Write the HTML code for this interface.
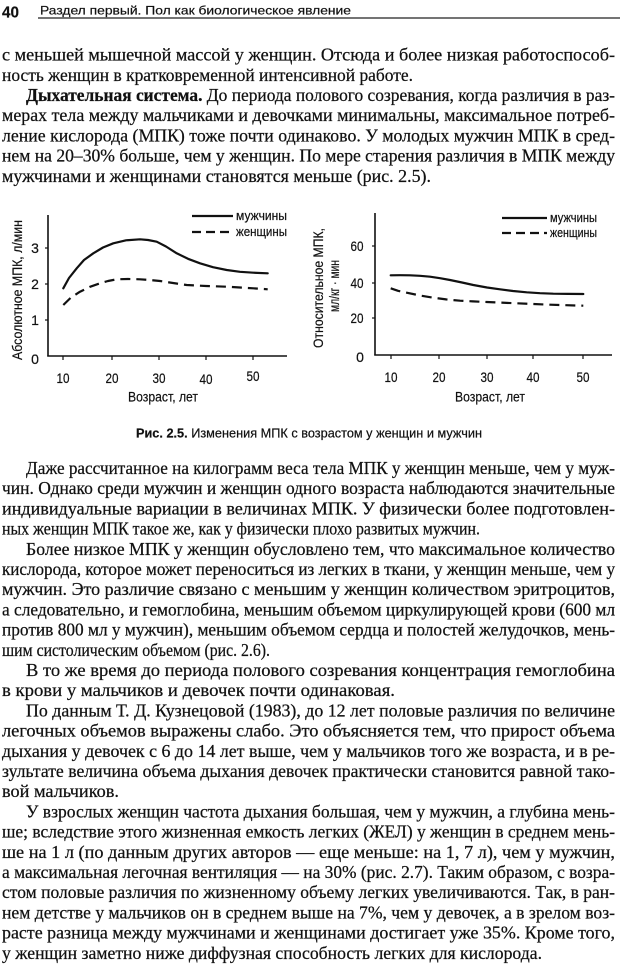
<!DOCTYPE html>
<html>
<head>
<meta charset="utf-8">
<style>
  html,body{margin:0;padding:0;background:#fff;}
  svg{display:block;}
  .b{font-family:"Liberation Serif","Noto Serif CJK SC",serif;font-size:18px;fill:#111;stroke:#111;stroke-width:0.25;}
  .s{font-family:"Liberation Sans","Noto Sans CJK SC",sans-serif;fill:#111;stroke:#111;stroke-width:0.2;}
</style>
</head>
<body>
<svg width="620" height="966" viewBox="0 0 620 966" xmlns="http://www.w3.org/2000/svg">
  <rect width="620" height="966" fill="#fff"/>

  <!-- Header -->
  <text class="s" x="2" y="17.3" font-size="15.5" font-weight="bold" textLength="17" lengthAdjust="spacingAndGlyphs">40</text>
  <text class="s" x="40" y="14.5" font-size="12" textLength="311" lengthAdjust="spacingAndGlyphs">Раздел первый. Пол как биологическое явление</text>
  <line x1="38" y1="18" x2="620" y2="18" stroke="#222" stroke-width="1.3"/>

  <!-- Top text block -->
  <text class="b" x="2" y="60.6" textLength="613" lengthAdjust="spacingAndGlyphs">с меньшей мышечной массой у женщин. Отсюда и более низкая работоспособ-</text>
  <text class="b" x="2" y="80.8" textLength="411" lengthAdjust="spacingAndGlyphs">ность женщин в кратковременной интенсивной работе.</text>
  <text class="b" x="26" y="101" textLength="589" lengthAdjust="spacingAndGlyphs"><tspan font-weight="bold">Дыхательная система.</tspan> До периода полового созревания, когда различия в раз-</text>
  <text class="b" x="2" y="121.2" textLength="613" lengthAdjust="spacingAndGlyphs">мерах тела между мальчиками и девочками минимальны, максимальное потреб-</text>
  <text class="b" x="2" y="141.4" textLength="613" lengthAdjust="spacingAndGlyphs">ление кислорода (МПК) тоже почти одинаково. У молодых мужчин МПК в сред-</text>
  <text class="b" x="2" y="161.6" textLength="613" lengthAdjust="spacingAndGlyphs">нем на 20–30% больше, чем у женщин. По мере старения различия в МПК между</text>
  <text class="b" x="2" y="181.8" textLength="429" lengthAdjust="spacingAndGlyphs">мужчинами и женщинами становятся меньше (рис. 2.5).</text>

  <!-- LEFT CHART -->
  <g stroke="#111" fill="none">
    <line x1="48" y1="215" x2="48" y2="356.5" stroke-width="1.6"/>
    <line x1="47.3" y1="356" x2="287" y2="356" stroke-width="1.6"/>
    <line x1="63" y1="356" x2="63" y2="360" stroke-width="1.2"/>
    <line x1="112" y1="356" x2="112" y2="360" stroke-width="1.2"/>
    <line x1="159" y1="356" x2="159" y2="360" stroke-width="1.2"/>
    <line x1="206" y1="356" x2="206" y2="360" stroke-width="1.2"/>
    <line x1="253" y1="356" x2="253" y2="360" stroke-width="1.2"/>
    <line x1="45" y1="248" x2="48" y2="248" stroke-width="1.2"/>
    <line x1="45" y1="284" x2="48" y2="284" stroke-width="1.2"/>
    <line x1="45" y1="320" x2="48" y2="320" stroke-width="1.2"/>
    <polyline stroke-width="2.2" stroke-linejoin="round" stroke-linecap="round"
      points="63.3,288.3 69,278 76.7,268.3 84,260 93.3,253.3 103,247.5 113.3,243.3 126,240.3 140,239.3 148,240 156.7,241.7 166,246.5 176.7,253.3 188,258.8 200,263.3 213,267.2 226.7,270 240,271.8 253.3,272.7 267.7,273.3"/>
    <polyline stroke-width="2.2" stroke-dasharray="10 6" stroke-linejoin="round"
      points="63.3,305 71,297.5 80,291.7 90,286.8 100,283.3 108,281 116.7,279.3 128,279 140,279.3 150,280 160,281 173,283 186.7,285 206,286 226.7,286.7 240,287.5 253.3,288.3 267.7,289.3"/>
    <line x1="192" y1="216" x2="233" y2="216" stroke-width="2.2"/>
    <line x1="192" y1="232" x2="233" y2="232" stroke-width="2.2" stroke-dasharray="9 5"/>
  </g>
  <text class="s" x="236" y="220" font-size="12.5" textLength="51" lengthAdjust="spacingAndGlyphs">мужчины</text>
  <text class="s" x="236" y="236" font-size="12.5" textLength="51" lengthAdjust="spacingAndGlyphs">женщины</text>
  <g class="s" font-size="14" text-anchor="middle">
    <text x="35" y="253">3</text>
    <text x="35" y="289">2</text>
    <text x="35" y="325">1</text>
    <text x="35" y="364">0</text>
    <text x="63" y="383" textLength="13" lengthAdjust="spacingAndGlyphs">10</text>
    <text x="112" y="383" textLength="13" lengthAdjust="spacingAndGlyphs">20</text>
    <text x="159" y="383" textLength="13" lengthAdjust="spacingAndGlyphs">30</text>
    <text x="206" y="384" textLength="13" lengthAdjust="spacingAndGlyphs">40</text>
    <text x="253" y="381" textLength="13" lengthAdjust="spacingAndGlyphs">50</text>
  </g>
  <text class="s" x="128" y="401.5" font-size="13.5" textLength="70" lengthAdjust="spacingAndGlyphs">Возраст, лет</text>
  <text class="s" font-size="13.5" text-anchor="middle" transform="translate(22,290) rotate(-90)" textLength="140" lengthAdjust="spacingAndGlyphs">Абсолютное МПК, л/мин</text>

  <!-- RIGHT CHART -->
  <g stroke="#111" fill="none">
    <line x1="375" y1="213" x2="375" y2="355.5" stroke-width="1.6"/>
    <line x1="374.3" y1="355" x2="612" y2="355" stroke-width="1.6"/>
    <line x1="391" y1="355" x2="391" y2="359" stroke-width="1.2"/>
    <line x1="439" y1="355" x2="439" y2="359" stroke-width="1.2"/>
    <line x1="487" y1="355" x2="487" y2="359" stroke-width="1.2"/>
    <line x1="533" y1="355" x2="533" y2="359" stroke-width="1.2"/>
    <line x1="583" y1="355" x2="583" y2="359" stroke-width="1.2"/>
    <line x1="372" y1="246" x2="375" y2="246" stroke-width="1.2"/>
    <line x1="372" y1="283" x2="375" y2="283" stroke-width="1.2"/>
    <line x1="372" y1="318" x2="375" y2="318" stroke-width="1.2"/>
    <polyline stroke-width="2.2" stroke-linejoin="round" stroke-linecap="round"
      points="390.7,275.3 400,275.2 410,275.3 420,275.8 430,276.7 440,278.2 450,280 462,282.5 473.3,285 487,287.5 500,289.3 513,291 526.7,292.3 540,293.2 553.3,293.7 568,293.9 583.3,294"/>
    <polyline stroke-width="2.2" stroke-dasharray="10 6" stroke-linejoin="round"
      points="390.7,288.3 398,290.8 406.7,292.7 420,295.5 433.3,297.7 446,299.4 460,300.7 473,301.4 486.7,302 500,302.6 516.7,303.3 533,304 550,304.7 566,305.2 583.3,305.7"/>
    <line x1="502" y1="218" x2="547" y2="218" stroke-width="2.2"/>
    <line x1="502" y1="233" x2="547" y2="233" stroke-width="2.2" stroke-dasharray="9 5"/>
  </g>
  <text class="s" x="550" y="222" font-size="12.5" textLength="47" lengthAdjust="spacingAndGlyphs">мужчины</text>
  <text class="s" x="550" y="237" font-size="12.5" textLength="47" lengthAdjust="spacingAndGlyphs">женщины</text>
  <g class="s" font-size="14" text-anchor="middle">
    <text x="357" y="251" textLength="13" lengthAdjust="spacingAndGlyphs">60</text>
    <text x="357" y="288" textLength="13" lengthAdjust="spacingAndGlyphs">40</text>
    <text x="357" y="323" textLength="13" lengthAdjust="spacingAndGlyphs">20</text>
    <text x="360" y="362">0</text>
    <text x="391" y="382" textLength="13" lengthAdjust="spacingAndGlyphs">10</text>
    <text x="439" y="382" textLength="13" lengthAdjust="spacingAndGlyphs">20</text>
    <text x="487" y="382" textLength="13" lengthAdjust="spacingAndGlyphs">30</text>
    <text x="533" y="382" textLength="13" lengthAdjust="spacingAndGlyphs">40</text>
    <text x="583" y="382" textLength="13" lengthAdjust="spacingAndGlyphs">50</text>
  </g>
  <text class="s" x="455" y="401.5" font-size="13.5" textLength="70" lengthAdjust="spacingAndGlyphs">Возраст, лет</text>
  <text class="s" font-size="13.5" text-anchor="middle" transform="translate(323,288) rotate(-90)" textLength="120" lengthAdjust="spacingAndGlyphs">Относительное МПК,</text>
  <text class="s" font-size="13.5" text-anchor="middle" transform="translate(339,286) rotate(-90)" textLength="52" lengthAdjust="spacingAndGlyphs">мл/кг · мин</text>

  <!-- Caption -->
  <text class="s" x="136" y="437.5" font-size="12.5" textLength="346" lengthAdjust="spacingAndGlyphs"><tspan font-weight="bold">Рис. 2.5.</tspan> Изменения МПК с возрастом у женщин и мужчин</text>

  <!-- Bottom text block -->
  <text class="b" x="26" y="474" textLength="589" lengthAdjust="spacingAndGlyphs">Даже рассчитанное на килограмм веса тела МПК у женщин меньше, чем у муж-</text>
  <text class="b" x="2" y="494.2" textLength="613" lengthAdjust="spacingAndGlyphs">чин. Однако среди мужчин и женщин одного возраста наблюдаются значительные</text>
  <text class="b" x="2" y="514.4" textLength="613" lengthAdjust="spacingAndGlyphs">индивидуальные вариации в величинах МПК. У физически более подготовлен-</text>
  <text class="b" x="2" y="534.6" textLength="478" lengthAdjust="spacingAndGlyphs">ных женщин МПК такое же, как у физически плохо развитых мужчин.</text>
  <text class="b" x="26" y="554.8" textLength="589" lengthAdjust="spacingAndGlyphs">Более низкое МПК у женщин обусловлено тем, что максимальное количество</text>
  <text class="b" x="2" y="575" textLength="613" lengthAdjust="spacingAndGlyphs">кислорода, которое может переноситься из легких в ткани, у женщин меньше, чем у</text>
  <text class="b" x="2" y="595.2" textLength="613" lengthAdjust="spacingAndGlyphs">мужчин. Это различие связано с меньшим у женщин количеством эритроцитов,</text>
  <text class="b" x="2" y="615.4" textLength="613" lengthAdjust="spacingAndGlyphs">а следовательно, и гемоглобина, меньшим объемом циркулирующей крови (600 мл</text>
  <text class="b" x="2" y="635.6" textLength="613" lengthAdjust="spacingAndGlyphs">против 800 мл у мужчин), меньшим объемом сердца и полостей желудочков, мень-</text>
  <text class="b" x="2" y="655.8" textLength="268" lengthAdjust="spacingAndGlyphs">шим систолическим объемом (рис. 2.6).</text>
  <text class="b" x="26" y="676" textLength="589" lengthAdjust="spacingAndGlyphs">В то же время до периода полового созревания концентрация гемоглобина</text>
  <text class="b" x="2" y="696.2" textLength="393" lengthAdjust="spacingAndGlyphs">в крови у мальчиков и девочек почти одинаковая.</text>
  <text class="b" x="26" y="716.4" textLength="589" lengthAdjust="spacingAndGlyphs">По данным Т. Д. Кузнецовой (1983), до 12 лет половые различия по величине</text>
  <text class="b" x="2" y="736.6" textLength="613" lengthAdjust="spacingAndGlyphs">легочных объемов выражены слабо. Это объясняется тем, что прирост объема</text>
  <text class="b" x="2" y="756.8" textLength="613" lengthAdjust="spacingAndGlyphs">дыхания у девочек с 6 до 14 лет выше, чем у мальчиков того же возраста, и в ре-</text>
  <text class="b" x="2" y="777" textLength="613" lengthAdjust="spacingAndGlyphs">зультате величина объема дыхания девочек практически становится равной тако-</text>
  <text class="b" x="2" y="797.2" textLength="117" lengthAdjust="spacingAndGlyphs">вой мальчиков.</text>
  <text class="b" x="26" y="817.4" textLength="589" lengthAdjust="spacingAndGlyphs">У взрослых женщин частота дыхания большая, чем у мужчин, а глубина мень-</text>
  <text class="b" x="2" y="837.6" textLength="613" lengthAdjust="spacingAndGlyphs">ше; вследствие этого жизненная емкость легких (ЖЕЛ) у женщин в среднем мень-</text>
  <text class="b" x="2" y="857.8" textLength="613" lengthAdjust="spacingAndGlyphs">ше на 1 л (по данным других авторов — еще меньше: на 1, 7 л), чем у мужчин,</text>
  <text class="b" x="2" y="878" textLength="613" lengthAdjust="spacingAndGlyphs">а максимальная легочная вентиляция — на 30% (рис. 2.7). Таким образом, с возра-</text>
  <text class="b" x="2" y="898.2" textLength="613" lengthAdjust="spacingAndGlyphs">стом половые различия по жизненному объему легких увеличиваются. Так, в ран-</text>
  <text class="b" x="2" y="918.4" textLength="613" lengthAdjust="spacingAndGlyphs">нем детстве у мальчиков он в среднем выше на 7%, чем у девочек, а в зрелом воз-</text>
  <text class="b" x="2" y="938.6" textLength="613" lengthAdjust="spacingAndGlyphs">расте разница между мужчинами и женщинами достигает уже 35%. Кроме того,</text>
  <text class="b" x="2" y="958.8" textLength="540" lengthAdjust="spacingAndGlyphs">у женщин заметно ниже диффузная способность легких для кислорода.</text>
</svg>
</body>
</html>
